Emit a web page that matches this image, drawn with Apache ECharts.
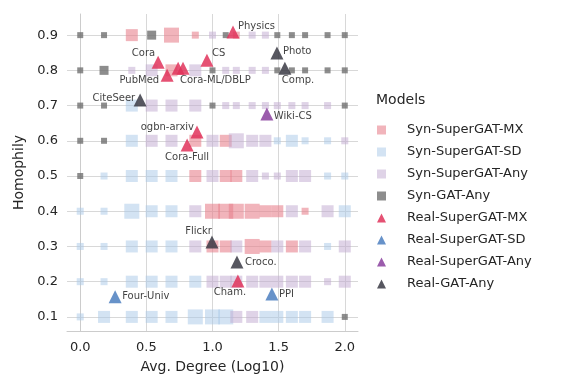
<!DOCTYPE html>
<html>
<head>
    <meta charset="utf-8">
    <title>Homophily vs degree</title>
    <script src="https://cdn.jsdelivr.net/npm/echarts@6/dist/echarts.min.js"></script>
    <style>
      body { padding: 0; margin: 0; background: #fff; }
      #main { width: 562px; height: 386px; }
    </style>
</head>
<body>
    <div id="main"></div>
    <script type="text/javascript">
      // synthetic graphs: columns are avg. degree (log10), rows are homophily
      const synX = [0, 0.18, 0.39, 0.54, 0.69, 0.87, 1.0, 1.1, 1.18, 1.3, 1.4, 1.49, 1.6, 1.7, 1.87, 2.0];
      const synY = [0.9, 0.8, 0.7, 0.6, 0.5, 0.4, 0.3, 0.2, 0.1];
      // best model per cell: M = SuperGAT-MX, S = SuperGAT-SD, A = SuperGAT-Any, G = GAT-Any
      const synBest = [
        'GGMGMMAGMAAGGGGG',
        'GGAAMAGAAAAGGGGG',
        'GGSAAAGAAAAAAAAG',
        'GGSAAMAMAAASSSSA',
        'GSSSSMAMMAAAAASS',
        'SSSSSAMMMMMMAMAS',
        'SSSSSAMMAMMAMASA',
        'SSSSSSAAAAAAAAAA',
        'SSSSSSSSAASSSSSG'
      ];
      // marker size level per cell
      const synLevel = [
        '1122311111111111',
        '1212221111111111',
        '1122221111111111',
        '1122222232212111',
        '1122222222112211',
        '1132223333222122',
        '1122222223222212',
        '1122222222222212',
        '1222233322222221'
      ];

      // real-world datasets
      const realNames = ['Physics', 'Cora', 'CS', 'PubMed', 'Cora-ML', 'DBLP', 'Photo', 'Comp.', 'CiteSeer',
        'Wiki-CS', 'ogbn-arxiv', 'Cora-Full', 'Flickr', 'Croco.', 'Cham.', 'Four-Univ', 'PPI'];
      const realX = [1.155, 0.589, 0.958, 0.657, 0.74, 0.777, 1.487, 1.547, 0.453,
        1.411, 0.883, 0.808, 0.996, 1.185, 1.192, 0.264, 1.449];
      const realY = [0.909, 0.823, 0.829, 0.786, 0.806, 0.806, 0.849, 0.806, 0.716,
        0.676, 0.625, 0.588, 0.313, 0.256, 0.202, 0.157, 0.165];
      const realBest = ['M', 'M', 'M', 'M', 'M', 'M', 'G', 'G', 'G',
        'A', 'M', 'M', 'G', 'G', 'M', 'S', 'S'];
      const realLabel = ['Physics', 'Cora', 'CS', 'PubMed', '', 'Cora-ML/DBLP', 'Photo', 'Comp.', 'CiteSeer',
        'Wiki-CS', 'ogbn-arxiv', 'Cora-Full', 'Flickr', 'Croco.', 'Cham.', 'Four-Univ', 'PPI'];

      const xTicks = [0, 0.5, 1, 1.5, 2];
      const yTicks = [0.1, 0.2, 0.3, 0.4, 0.5, 0.6, 0.7, 0.8, 0.9];

      // label placement (align, dx, dy) relative to the marker center
      const labelPlace = {
        'Physics': ['left', 5, -6], 'Cora': ['right', -3, -9], 'CS': ['left', 5, -7],
        'PubMed': ['right', -8, 5], 'Cora-ML/DBLP': ['left', -3, 12], 'Photo': ['left', 6, -2],
        'Comp.': ['left', -3, 12], 'CiteSeer': ['right', -5, -2], 'Wiki-CS': ['left', 7, 2],
        'ogbn-arxiv': ['right', -3, -5], 'Cora-Full': ['center', 0, 12], 'Flickr': ['right', 0, -10],
        'Croco.': ['left', 8, 0], 'Cham.': ['center', -8, 11], 'Four-Univ': ['left', 7, 0], 'PPI': ['left', 7, 0]
      };

      const models = ['M', 'S', 'A', 'G'];
      const synNames = ['Syn-SuperGAT-MX', 'Syn-SuperGAT-SD', 'Syn-SuperGAT-Any', 'Syn-GAT-Any'];
      const realSeriesNames = ['Real-SuperGAT-MX', 'Real-SuperGAT-SD', 'Real-SuperGAT-Any', 'Real-GAT-Any'];
      const synColors = ['#e8828e', '#a8c8e8', '#c0a8d0', '#707070'];
      const synOpacity = [0.6, 0.5, 0.5, 0.8];
      const realColors = ['#e0335a', '#4c7fc0', '#8a3f9e', '#3a3a44'];
      const sizeOf = [0, 7, 12, 15];
      const gatSize = [0, 6, 9, 12];
      const font = 'DejaVu Sans';

      const series = [];
      models.forEach((m, k) => {
        const data = [];
        synY.forEach((y, r) => {
          synX.forEach((x, c) => {
            if (synBest[r][c] === m) data.push([x, y, +synLevel[r][c]]);
          });
        });
        series.push({
          name: synNames[k],
          type: 'scatter',
          symbol: 'rect',
          symbolSize: v => (m === 'G' ? gatSize : sizeOf)[v[2]],
          itemStyle: { color: synColors[k], opacity: synOpacity[k] },
          data
        });
      });
      models.forEach((m, k) => {
        const data = [];
        realNames.forEach((n, i) => {
          if (realBest[i] !== m) return;
          const lab = realLabel[i];
          const p = labelPlace[lab];
          data.push({
            name: n,
            value: [realX[i], realY[i]],
            label: lab ? {
              show: true, formatter: lab, position: 'inside',
              align: p[0], verticalAlign: 'middle', offset: [p[1], p[2]]
            } : { show: false }
          });
        });
        series.push({
          name: realSeriesNames[k],
          type: 'scatter',
          symbol: 'triangle',
          symbolSize: 13,
          z: 5,
          itemStyle: { color: realColors[k], opacity: 0.85 },
          label: { fontFamily: font, fontSize: 10, color: '#222' },
          data
        });
      });

      const chart = echarts.init(document.getElementById('main'));
      chart.setOption({
        animation: false,
        backgroundColor: '#fff',
        textStyle: { fontFamily: font },
        title: {
          text: 'Models', left: 371, top: 88,
          textStyle: { fontFamily: font, fontSize: 14, fontWeight: 'normal', color: '#262626' }
        },
        legend: {
          orient: 'vertical', left: 372, top: 117,
          itemWidth: 9, itemHeight: 9, itemGap: 6,
          data: synNames.concat(realSeriesNames),
          textStyle: { fontFamily: font, fontSize: 13, lineHeight: 16, color: '#262626', padding: [0, 0, 0, 16] }
        },
        grid: { left: 67, right: 204, top: 14, bottom: 55 },
        xAxis: {
          type: 'value', min: -0.1, max: 2.1,
          name: 'Avg. Degree (Log10)', nameLocation: 'middle', nameGap: 29,
          nameTextStyle: { fontFamily: font, fontSize: 14, color: '#262626' },
          axisLine: { lineStyle: { color: '#cccccc' } },
          axisTick: { show: false, customValues: xTicks },
          axisLabel: { customValues: xTicks, formatter: v => v.toFixed(1), fontSize: 13, color: '#262626', margin: 10 },
          splitLine: { lineStyle: { color: '#d8d8d8' } }
        },
        yAxis: {
          type: 'value', min: 0.06, max: 0.96,
          name: 'Homophily', nameLocation: 'middle', nameGap: 40,
          nameTextStyle: { fontFamily: font, fontSize: 14, color: '#262626' },
          axisLine: { show: true, lineStyle: { color: '#cccccc' } },
          axisTick: { show: false, customValues: yTicks },
          axisLabel: { customValues: yTicks, formatter: v => v.toFixed(1), fontSize: 13, color: '#262626', margin: 9 },
          splitLine: { lineStyle: { color: '#d8d8d8' } }
        },
        series
      });
    </script>
</body>
</html>
